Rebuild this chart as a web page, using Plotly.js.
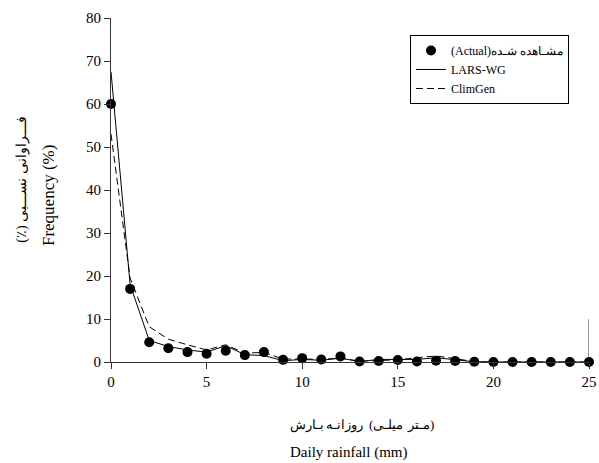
<!DOCTYPE html>
<html>
<head>
<meta charset="utf-8">
<script src="https://cdn.plot.ly/plotly-3.0.1.min.js"></script>
<style>html,body{margin:0;padding:0;background:#fff;}#chart{width:599px;height:463px;}</style>
</head>
<body>
<div id="chart"></div>
<script>
const rainfall = [0,1,2,3,4,5,6,7,8,9,10,11,12,13,14,15,16,17,18,19,20,21,22,23,24,25];
const actual  = [60, 17, 4.6, 3.2, 2.3, 1.9, 2.6, 1.6, 2.3, 0.5, 0.9, 0.6, 1.3, 0.1, 0.25, 0.45, 0.1, 0.3, 0.25, 0.05, 0, 0, 0, 0, 0, 0];
const larsWG  = [67.5, 18, 5, 3.6, 2.8, 2.3, 3.8, 1.7, 1.5, 0.3, 0.6, 0.4, 0.9, 0.1, 0.6, 0.6, 0.6, 1.0, 0.5, 0.05, 0, 0, 0, 0, 0, 0];
const climGen = [53, 19.5, 8.2, 5.3, 4.0, 2.8, 4.0, 2.1, 2.2, 0.7, 0.7, 0.6, 0.9, 0.2, 0.35, 0.5, 1.0, 1.4, 0.8, 0.05, 0, 0, 0, 0, 0, 0];
const seriesNames = ["(Actual)مشـاهده شـده", "LARS-WG", "ClimGen"];
const xTickVals = [0, 5, 10, 15, 20, 25];
const yTickVals = [0, 10, 20, 30, 40, 50, 60, 70, 80];
const xTitleFaWords = ["بـارش", "روزانـه", "(میلـی", "مـتر)"];
const xTitleEn = "Daily rainfall (mm)";
const yTitleFa = "فـــراوانی نســـبی (٪)";
const yTitleEn = "Frequency (%)";

const serif = "Liberation Serif, Times New Roman, DejaVu Serif, serif";

const traces = [
  {x: rainfall, y: actual, name: seriesNames[0], mode: 'markers', type: 'scatter',
   marker: {color: '#000', size: 10}, cliponaxis: false},
  {x: rainfall, y: larsWG, name: seriesNames[1], mode: 'lines', type: 'scatter',
   line: {color: '#000', width: 1}, cliponaxis: false},
  {x: rainfall, y: climGen, name: seriesNames[2], mode: 'lines', type: 'scatter',
   line: {color: '#000', width: 1, dash: '7px,4px'}, cliponaxis: false}
];

const RLM = '\u200F';
// Persian x title: words set left to right (as in the reference), one text each
const faWordX = [0.411, 0.4895, 0.576, 0.6485];
const annotations = xTitleFaWords.map((w, i) => ({
  text: w, xref: 'paper', yref: 'paper', x: faWordX[i], y: -0.183, xanchor: 'center', yanchor: 'middle',
  showarrow: false, font: {family: serif, size: 13, color: '#000'}
}));
annotations.push(
  {text: xTitleEn, xref: 'paper', yref: 'paper', x: 0.496, y: -0.262, xanchor: 'center', yanchor: 'middle',
   showarrow: false, font: {family: serif, size: 15, color: '#000'}},
  {text: RLM + yTitleFa + RLM, xref: 'paper', yref: 'paper', x: -0.186, y: 0.53, xanchor: 'center', yanchor: 'middle',
   textangle: -90, showarrow: false, font: {family: serif, size: 14, color: '#000'}},
  {text: yTitleEn, xref: 'paper', yref: 'paper', x: -0.132, y: 0.485, xanchor: 'center', yanchor: 'middle',
   textangle: -90, showarrow: false, font: {family: serif, size: 17, color: '#000'}}
);

const layout = {
  width: 599, height: 463,
  margin: {l: 111, r: 10, t: 18, b: 101},
  paper_bgcolor: '#fff', plot_bgcolor: '#fff',
  font: {family: serif, size: 14, color: '#000'},
  showlegend: true,
  legend: {x: 0.6255, y: 0.9506, xanchor: 'left', yanchor: 'top',
    bordercolor: '#000', borderwidth: 1, bgcolor: '#fff',
    font: {family: serif, size: 12, color: '#000'}, tracegroupgap: 0},
  xaxis: {range: [0, 25], tickvals: xTickVals, ticks: 'outside', ticklen: 6, tickcolor: '#333',
    showline: true, linecolor: '#333', linewidth: 1, showgrid: false, zeroline: false,
    tickfont: {family: serif, size: 15, color: '#000'}},
  yaxis: {range: [0, 80], tickvals: yTickVals, ticks: 'outside', ticklen: 6, tickcolor: '#333',
    showline: true, linecolor: '#333', linewidth: 1, showgrid: false, zeroline: false,
    tickfont: {family: serif, size: 15, color: '#000'}},
  shapes: [
    {type: 'line', xref: 'x', yref: 'y', x0: 25, x1: 25, y0: 0, y1: 10, line: {color: '#333', width: 1}}
  ],
  annotations: annotations
};

Plotly.newPlot('chart', traces, layout, {displayModeBar: false, staticPlot: true});
</script>
</body>
</html>
